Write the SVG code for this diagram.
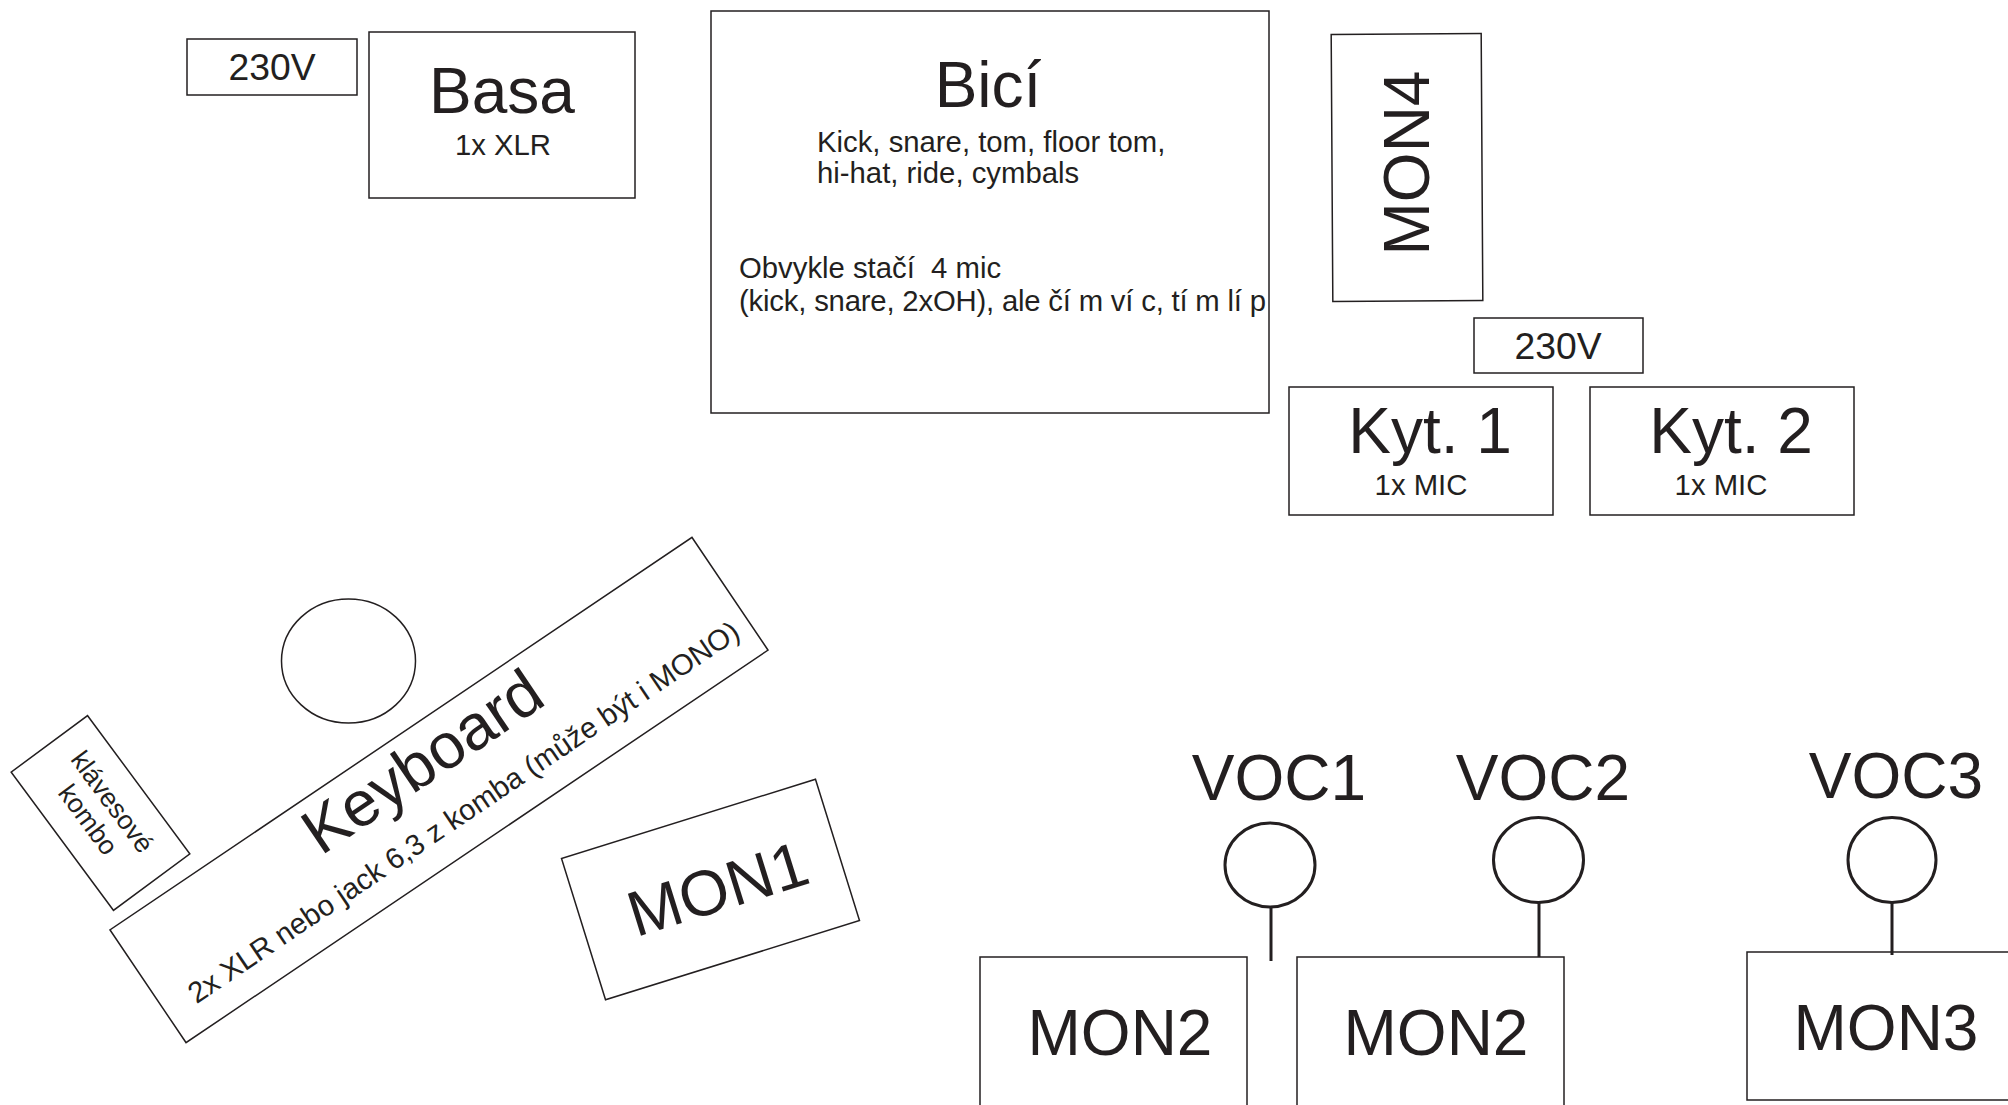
<svg xmlns="http://www.w3.org/2000/svg" width="2008" height="1105" viewBox="0 0 2008 1105">
<style>
  .box { fill: none; stroke: #231f20; stroke-width: 1.5; }
  .mic { fill: none; stroke: #231f20; stroke-width: 3; }
  .wire { stroke: #231f20; stroke-width: 3; fill: none; }
  text { font-family: "Liberation Sans", Arial, sans-serif; fill: #231f20; }
  .title { font-size: 64px; text-anchor: middle; }
  .sub { font-size: 29.3px; text-anchor: middle; }
  .note { font-size: 29.3px; white-space: pre; }
  .volt { font-size: 37.3px; text-anchor: middle; }
  .small { font-size: 26.7px; text-anchor: middle; }
</style>
<defs>
  <clipPath id="biciClip"><rect x="711" y="11" width="558" height="402"/></clipPath>
</defs>
<rect width="2008" height="1105" fill="#ffffff"/>

<g id="power-left">
  <rect class="box" x="187" y="39" width="170" height="56"/>
  <text class="volt" x="272" y="80">230V</text>
</g>

<g id="basa">
  <rect class="box" x="369" y="32" width="266" height="166"/>
  <text class="title" x="502" y="113">Basa</text>
  <text class="sub" x="503" y="155">1x XLR</text>
</g>

<g id="bici">
  <rect class="box" x="711" y="11" width="558" height="402"/>
  <text class="title" x="988" y="107">Bicí</text>
  <text class="note" x="817" y="152">Kick, snare, tom, floor tom,</text>
  <text class="note" x="817" y="183">hi-hat, ride, cymbals</text>
  <g clip-path="url(#biciClip)">
    <text class="note" x="739" y="277.5" xml:space="preserve">Obvykle stačí  4 mic</text>
    <text class="note" x="739" y="311" textLength="527" lengthAdjust="spacing">(kick, snare, 2xOH), ale čí m ví c, tí m lí p</text>
  </g>
</g>

<g id="mon4">
  <rect class="box" x="1332" y="34" width="150" height="267" transform="rotate(-0.35 1407 167)"/>
  <text class="title" x="0" y="0" transform="translate(1429 163) rotate(-90)">MON4</text>
</g>

<g id="power-right">
  <rect class="box" x="1474" y="318" width="169" height="55"/>
  <text class="volt" x="1558" y="359">230V</text>
</g>

<g id="kyt1">
  <rect class="box" x="1289" y="387" width="264" height="128"/>
  <text class="title" x="1430" y="453">Kyt. 1</text>
  <text class="sub" x="1421" y="495">1x MIC</text>
</g>

<g id="kyt2">
  <rect class="box" x="1590" y="387" width="264" height="128"/>
  <text class="title" x="1731" y="453">Kyt. 2</text>
  <text class="sub" x="1721" y="495">1x MIC</text>
</g>

<g id="keyboard-stool">
  <ellipse class="box" cx="348.5" cy="661" rx="67" ry="62"/>
</g>

<g id="keyboard" transform="translate(439 790) rotate(-34)">
  <rect class="box" x="-351" y="-68" width="702" height="136"/>
  <text class="title" x="2" y="-11">Keyboard</text>
  <text class="sub" x="8" y="42">2x XLR nebo jack 6,3 z komba (může být i MONO)</text>
</g>

<g id="klavesove-kombo" transform="translate(100.5 813) rotate(53.5)">
  <rect class="box" x="-86" y="-47.5" width="172" height="95"/>
  <text class="small" x="-2" y="-7">klávesové</text>
  <text class="small" x="-2" y="23">kombo</text>
</g>

<g id="mon1" transform="translate(710.5 889.5) rotate(-17.3)">
  <rect class="box" x="-133" y="-74" width="266" height="148"/>
  <text class="title" x="7" y="23.5">MON1</text>
</g>

<g id="voc1">
  <text class="title" x="1279" y="800">VOC1</text>
  <ellipse class="mic" cx="1270" cy="865" rx="45" ry="42"/>
</g>

<g id="voc2">
  <text class="title" x="1543" y="800">VOC2</text>
  <ellipse class="mic" cx="1538.5" cy="860" rx="45" ry="42.5"/>
</g>

<g id="voc3">
  <text class="title" x="1896" y="798">VOC3</text>
  <ellipse class="mic" cx="1892" cy="860" rx="44" ry="42.5"/>
</g>

<g id="mon2-left">
  <rect class="box" x="980" y="957" width="267" height="160"/>
  <text class="title" x="1120" y="1055">MON2</text>
</g>

<g id="mon2-right">
  <rect class="box" x="1297" y="957" width="267" height="160"/>
  <text class="title" x="1436" y="1055">MON2</text>
</g>

<g id="mon3">
  <rect class="box" x="1747" y="952" width="280" height="148"/>
  <text class="title" x="1886" y="1050">MON3</text>
</g>

<g id="connectors">
  <line class="wire" x1="1271" y1="907" x2="1271" y2="961"/>
  <line class="wire" x1="1539" y1="902.5" x2="1539" y2="957"/>
  <line class="wire" x1="1892" y1="902.5" x2="1892" y2="955"/>
</g>
</svg>
